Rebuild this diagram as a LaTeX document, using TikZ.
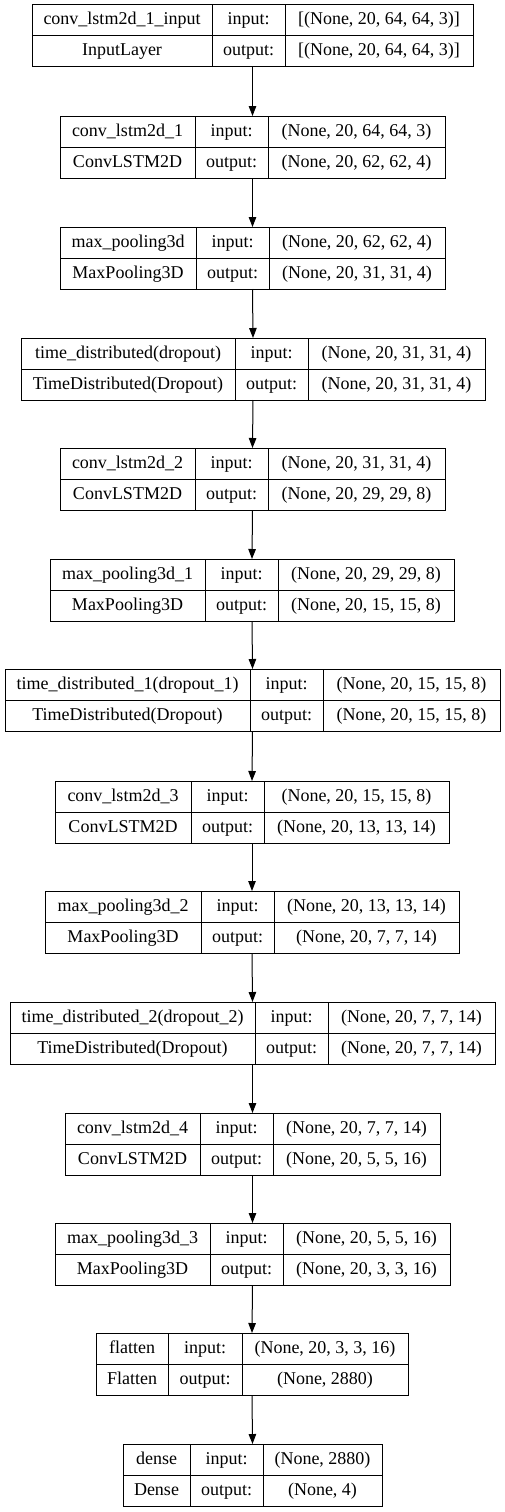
\documentclass[tikz,border=0pt]{standalone}
\usepackage{fontspec}
\setmainfont{Liberation Serif}
\usetikzlibrary{arrows.meta}

% Layer record: frame node plus grid lines and four cell labels.
% args: name, top, left, divider 1, divider 2, right, layer name, class, input shape; then {output shape}
\newcommand\kbox[9]{%
  \def\kname{#1}\def\ktop{#2}\def\kl{#3}\def\ka{#4}\def\kb{#5}\def\kr{#6}%
  \def\klayer{#7}\def\kclass{#8}\def\kin{#9}\kboxfinish}
\newcommand\kboxfinish[1]{%
  \node[kframe, anchor=north, minimum width={(\kr-\kl)*1pt}]
    (\kname) at ({(\kl+\kr)/2},\ktop) {};
  \draw[kline] (\kl,{\ktop+31}) -- (\kr,{\ktop+31});
  \draw[kline] (\ka,\ktop) -- (\ka,{\ktop+62});
  \draw[kline] (\kb,\ktop) -- (\kb,{\ktop+62});
  \node[ktext] (\kname-name)  at ({(\kl+\ka)/2},{\ktop+15.5}) {\klayer};
  \node[ktext] (\kname-class) at ({(\kl+\ka)/2},{\ktop+46.5}) {\kclass};
  \node[ktext] (\kname-inl)   at ({(\ka+\kb)/2},{\ktop+15.5}) {input:};
  \node[ktext] (\kname-outl)  at ({(\ka+\kb)/2},{\ktop+46.5}) {output:};
  \node[ktext] (\kname-in)    at ({(\kb+\kr)/2},{\ktop+15.5}) {\kin};
  \node[ktext] (\kname-out)   at ({(\kb+\kr)/2},{\ktop+46.5}) {#1};
}

\begin{document}
\begin{tikzpicture}[x=1pt,y=-1pt,
  kframe/.style={draw=black, line width=1pt, minimum height=62pt, inner sep=0pt, outer sep=0pt},
  kline/.style={draw=black, line width=1pt},
  ktext/.style={inner sep=0pt, font=\fontsize{18}{20}\selectfont, text height=13pt, text depth=4pt},
  karrow/.style={draw=black, line width=1pt, -{Triangle[length=10pt,width=7.5pt]}}]

\useasboundingbox (0,0) rectangle (505,1512);
\fill[white] (0,0) rectangle (505,1512);

\kbox{b1}{5}{32}{212}{285}{473}{conv\_lstm2d\_1\_input}{InputLayer}{[(None, 20, 64, 64, 3)]}{[(None, 20, 64, 64, 3)]}
\kbox{b2}{116}{60}{195}{268}{445}{conv\_lstm2d\_1}{ConvLSTM2D}{(None, 20, 64, 64, 3)}{(None, 20, 62, 62, 4)}
\kbox{b3}{227}{60}{196}{269}{445}{max\_pooling3d}{MaxPooling3D}{(None, 20, 62, 62, 4)}{(None, 20, 31, 31, 4)}
\kbox{b4}{338}{21}{235}{308}{485}{time\_distributed(dropout)}{TimeDistributed(Dropout)}{(None, 20, 31, 31, 4)}{(None, 20, 31, 31, 4)}
\kbox{b5}{448}{60}{195}{268}{445}{conv\_lstm2d\_2}{ConvLSTM2D}{(None, 20, 31, 31, 4)}{(None, 20, 29, 29, 8)}
\kbox{b6}{559}{50}{205}{278}{454}{max\_pooling3d\_1}{MaxPooling3D}{(None, 20, 29, 29, 8)}{(None, 20, 15, 15, 8)}
\kbox{b7}{669}{5}{250}{323}{500}{time\_distributed\_1(dropout\_1)}{TimeDistributed(Dropout)}{(None, 20, 15, 15, 8)}{(None, 20, 15, 15, 8)}
\kbox{b8}{781}{55}{191}{264}{449}{conv\_lstm2d\_3}{ConvLSTM2D}{(None, 20, 15, 15, 8)}{(None, 20, 13, 13, 14)}
\kbox{b9}{891}{45}{201}{274}{459}{max\_pooling3d\_2}{MaxPooling3D}{(None, 20, 13, 13, 14)}{(None, 20, 7, 7, 14)}
\kbox{b10}{1002}{10}{255}{328}{495}{time\_distributed\_2(dropout\_2)}{TimeDistributed(Dropout)}{(None, 20, 7, 7, 14)}{(None, 20, 7, 7, 14)}
\kbox{b11}{1113}{65}{200}{273}{440}{conv\_lstm2d\_4}{ConvLSTM2D}{(None, 20, 7, 7, 14)}{(None, 20, 5, 5, 16)}
\kbox{b12}{1223}{55}{210}{283}{450}{max\_pooling3d\_3}{MaxPooling3D}{(None, 20, 5, 5, 16)}{(None, 20, 3, 3, 16)}
\kbox{b13}{1333}{96}{168}{242}{408}{flatten}{Flatten}{(None, 20, 3, 3, 16)}{(None, 2880)}
\kbox{b14}{1444}{123}{190}{263}{382}{dense}{Dense}{(None, 2880)}{(None, 4)}

\foreach \i [evaluate=\i as \j using int(\i+1)] in {1,...,13}
  \draw[karrow] (b\i.south) -- (b\j.north);
\end{tikzpicture}
\end{document}
